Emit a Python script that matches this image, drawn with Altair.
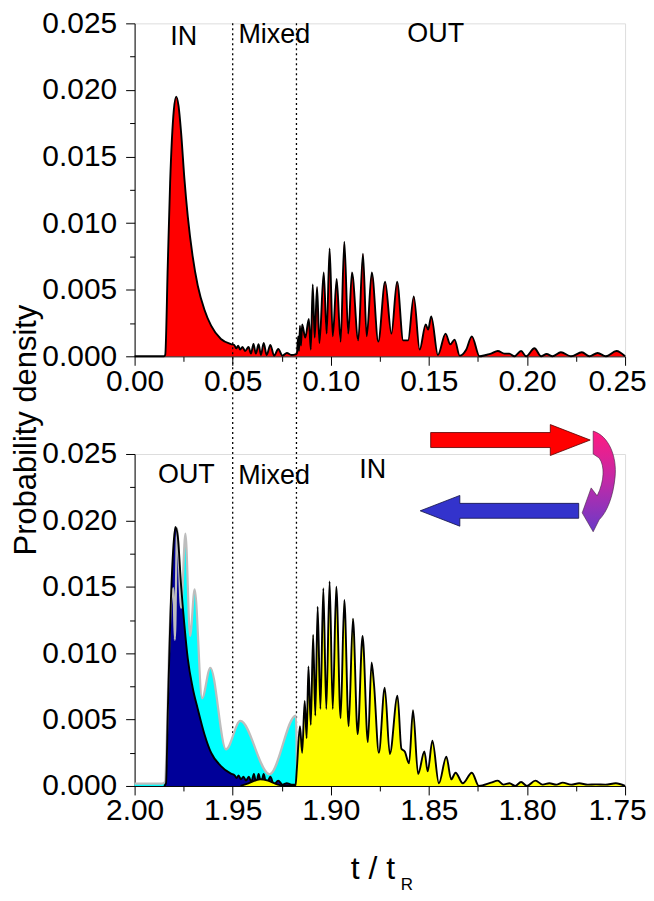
import altair as alt
import pandas as pd

FONT = "Liberation Sans"

# ---------------- top panel: t / t_R from 0 to 0.25 ----------------
top_t = [0.000, 0.0150, 0.0156, 0.0169, 0.0181, 0.0200, 0.0212, 0.0224, 0.0237, 0.0254,
         0.0271, 0.0296, 0.0322, 0.0356, 0.0390, 0.0440, 0.0491,
         0.0508, 0.0518, 0.0528, 0.0538, 0.0550, 0.0563, 0.0581, 0.0593, 0.0606, 0.0618,
         0.0632, 0.0644, 0.0658, 0.0673, 0.0692, 0.0711, 0.0732, 0.0754, 0.0776, 0.0800,
         0.0820, 0.0827, 0.0834, 0.0838, 0.0843, 0.0848, 0.0854, 0.0870, 0.0888, 0.0898,
         0.0908, 0.0918, 0.0930, 0.0942, 0.0964, 0.0979, 0.0994, 0.1010, 0.1030, 0.1050,
         0.1069, 0.1089, 0.1108, 0.1140, 0.1164, 0.1183, 0.1209, 0.1242, 0.1277, 0.1309,
         0.1338, 0.1369, 0.1394, 0.1423, 0.1453, 0.1484, 0.1496, 0.1512, 0.1546, 0.1585,
         0.1609, 0.1631, 0.1657, 0.1690, 0.1719, 0.1758, 0.1790, 0.1817, 0.1851, 0.1885,
         0.1910, 0.1936, 0.1970, 0.1996, 0.2038, 0.2072, 0.2100, 0.2130, 0.2173, 0.2224,
         0.2280, 0.2318, 0.2360, 0.2402, 0.2456, 0.2500]
top_p = [0.0, 0.0, 0.0001, 0.0068, 0.0130, 0.0185, 0.0195, 0.0188, 0.0168, 0.0133,
         0.0105, 0.0075, 0.0053, 0.0035, 0.0023, 0.0013, 0.00092,
         0.00085, 0.0006, 0.0008, 0.0005, 0.0007, 0.0004, 0.0007, 0.0002, 0.00092, 0.0002,
         0.0009, 0.0001, 0.0010, 0.0001, 0.00085, 0.00005, 0.00055, 0.00005, 0.00025, 0.0001,
         0.00015, 0.0002, 0.0015, 0.0004, 0.0023, 0.0008, 0.0024, 0.0014, 0.0028, 0.0005,
         0.0054, 0.0014, 0.0052, 0.0010, 0.0063, 0.0017, 0.0081, 0.0015, 0.0058, 0.0011,
         0.0086, 0.0017, 0.0063, 0.0012, 0.0077, 0.0015, 0.0063, 0.0011, 0.0056, 0.0017,
         0.0056, 0.0012, 0.0012, 0.0045, 0.0005, 0.0024, 0.0020, 0.0030, 0.0001, 0.0017,
         0.0009, 0.00125, 0.00005, 0.0005, 0.0015, 0.0, 0.0001, 0.0002, 0.0004, 0.0002,
         0.0002, 0.0, 0.0004, 0.0, 0.0006, 0.0, 0.00017, 0.0, 0.0003, 0.0,
         0.0003, 0.0, 0.00025, 0.0, 0.0004, 0.0]

top_bounds = [0.05, 0.0825]
top_labels = ["IN", "Mixed", "OUT"]
top_label_t = [0.0250, 0.0712, 0.1535]
top_label_p = [0.0240, 0.0241, 0.0242]

# ---------------- bottom panel: t / t_R from 2.00 down to 1.75 ----------------
cyan_t = [2.000, 1.9860, 1.9845, 1.9835, 1.9825, 1.9813, 1.9802, 1.9795, 1.9783, 1.9763,
          1.9741, 1.9717, 1.9694, 1.9656, 1.9614, 1.9534, 1.9461, 1.9312, 1.9178, 1.9172]
cyan_p = [0.00018, 0.00018, 0.0003, 0.0040, 0.0100, 0.0140, 0.0149, 0.0110, 0.0194, 0.0134,
          0.0190, 0.0113, 0.0148, 0.0066, 0.0089, 0.00275, 0.0049, 0.00088, 0.0053, 0.0]

navy_t = [1.9850, 1.9840, 1.9830, 1.9815, 1.9800, 1.9792, 1.9780, 1.9763, 1.9746, 1.9729,
          1.9704, 1.9678, 1.9644, 1.9610, 1.9560, 1.9509, 1.9490, 1.9480, 1.9470, 1.9458,
          1.9445, 1.9432, 1.9418, 1.9405, 1.9392, 1.9380, 1.9368, 1.9355, 1.9342, 1.9328,
          1.9308, 1.9290, 1.9268, 1.9246, 1.9224, 1.9200, 1.9180, 1.9170]
navy_p = [0.0, 0.0002, 0.0060, 0.0140, 0.0185, 0.0195, 0.0188, 0.0151, 0.0121, 0.0096,
          0.0074, 0.0058, 0.0039, 0.0025, 0.0015, 0.00093, 0.0008, 0.0006, 0.0008, 0.0005,
          0.0007, 0.0004, 0.0007, 0.0003, 0.0009, 0.0002, 0.0009, 0.0002, 0.0009, 0.0001,
          0.0007, 0.0001, 0.0004, 0.0001, 0.0002, 0.0001, 0.0001, 0.0]

yellow_t = [1.9460, 1.9420, 1.9360, 1.9320, 1.9270, 1.9230, 1.9180, 1.9173, 1.9157, 1.9146,
            1.9133, 1.9123, 1.9114, 1.9102, 1.9090, 1.9079, 1.9067, 1.9053, 1.9038, 1.9023,
            1.9006, 1.8990, 1.8972, 1.8950, 1.8931, 1.8909, 1.8887, 1.8863, 1.8838, 1.8811,
            1.8792, 1.8780, 1.8755, 1.8725, 1.8699, 1.8660, 1.8640, 1.8623, 1.8601, 1.8581,
            1.8555, 1.8523, 1.8506, 1.8482, 1.8449, 1.8411, 1.8386, 1.8364, 1.8327, 1.8281,
            1.8245, 1.8183, 1.8149, 1.8120, 1.8089, 1.8060, 1.8030, 1.8000, 1.7957, 1.7920,
            1.7886, 1.7850, 1.7818, 1.7775, 1.7734, 1.7690, 1.7649, 1.7600, 1.7547, 1.7500]
yellow_p = [0.0, 0.0002, 0.0005, 0.0004, 0.0001, 0.0, 0.0, 0.0013, 0.0045, 0.0025,
            0.0064, 0.0036, 0.0090, 0.0046, 0.0114, 0.0053, 0.0135, 0.0058, 0.0149, 0.0058,
            0.0154, 0.0058, 0.0150, 0.0051, 0.0140, 0.0045, 0.0126, 0.0039, 0.0113, 0.0033,
            0.0093, 0.0077, 0.0025, 0.0074, 0.0024, 0.0068, 0.0028, 0.0026, 0.0017, 0.0057,
            0.0009, 0.0026, 0.0011, 0.0034, 0.0002, 0.0022, 0.0005, 0.0010, 0.0002, 0.0010,
            0.0, 0.00025, 0.0004, 0.0001, 0.0002, 0.0, 0.0003, 0.0, 0.0004, 0.0001,
            0.0002, 0.0001, 0.00025, 0.0001, 0.0002, 0.0001, 0.00012, 0.0001, 0.0002, 0.0]

bottom_labels = ["OUT", "Mixed", "IN"]
bottom_label_t = [1.9736, 1.9289, 1.8786]
bottom_label_p = [0.0234, 0.02335, 0.0238]

y_ticks = [round(i * 0.0025, 4) for i in range(11)]
x_ticks_top = [round(i * 0.025, 3) for i in range(11)]
x_ticks_bottom = [round(1.75 + i * 0.025, 3) for i in range(11)]

# ---------------- styling helpers ----------------
def major(mult):
    return f"abs(datum.value*{mult} - round(datum.value*{mult})) < 0.001"

def make_axis(values, mult, fmt, pad, edge_value=None):
    extra = {}
    if edge_value is not None:
        extra["labelOffset"] = {"condition": {"test": f"abs(datum.value - {edge_value}) < 0.001",
                                              "value": -8}, "value": 0}
    return alt.Axis(
        values=values,
        labelExpr=f"{major(mult)} ? format(datum.value, '{fmt}') : ''",
        tickSize={"condition": {"test": major(mult), "value": 9}, "value": 5},
        labelOverlap=False, labelFlush=False, grid=False, title=None,
        labelFont=FONT, labelFontSize=30, labelColor="black",
        tickColor="black", domainColor="black", tickWidth=1, domainWidth=1,
        labelPadding=pad, **extra
    )

y_axis = make_axis(y_ticks, 200, ".3f", 9)
y_enc = alt.Y("p:Q", scale=alt.Scale(domain=[0, 0.025], nice=False), axis=y_axis)

# ---------------- top chart ----------------
df_top = pd.DataFrame({"t": top_t, "p": top_p})
x_top = alt.X("t:Q", scale=alt.Scale(domain=[0, 0.25], nice=False, zero=False),
              axis=make_axis(x_ticks_top, 20, ".2f", 1, 0.25))

top_area = alt.Chart(df_top).mark_area(color="#FF0000", interpolate="monotone").encode(x=x_top, y=y_enc)
top_line = alt.Chart(df_top).mark_line(color="black", strokeWidth=1.9, interpolate="monotone").encode(x=x_top, y=y_enc)

top_rules = alt.Chart(pd.DataFrame({"t": top_bounds})).mark_rule(
    color="black", strokeDash=[2, 3], strokeWidth=1.3
).encode(x=x_top, y=alt.value(0), y2=alt.value(765))

top_text = alt.Chart(pd.DataFrame({"t": top_label_t, "p": top_label_p, "s": top_labels})).mark_text(
    font=FONT, fontSize=27, color="black", align="center", baseline="middle"
).encode(x=x_top, y=y_enc, text="s:N")

ytitle = alt.Chart(pd.DataFrame({"s": ["Probability density"]})).mark_text(
    font=FONT, fontSize=31, color="black", angle=270, align="center", baseline="middle"
).encode(x=alt.value(-108), y=alt.value(408), text="s:N")

top_chart = alt.layer(top_area, top_line, top_rules, top_text, ytitle).properties(width=492, height=334)

# ---------------- bottom chart ----------------
x_bot = alt.X("t:Q", scale=alt.Scale(domain=[1.75, 2.0], nice=False, zero=False, reverse=True),
              axis=make_axis(x_ticks_bottom, 20, ".2f", 1, 1.75))

df_cyan = pd.DataFrame({"t": cyan_t, "p": cyan_p})
df_navy = pd.DataFrame({"t": navy_t, "p": navy_p})
df_yel = pd.DataFrame({"t": yellow_t, "p": yellow_p})

cyan_area = alt.Chart(df_cyan).mark_area(color="#00FFFF", interpolate="monotone").encode(x=x_bot, y=y_enc)
navy_area = alt.Chart(df_navy).mark_area(color="#000099", interpolate="monotone").encode(x=x_bot, y=y_enc)
cyan_line = alt.Chart(df_cyan).mark_line(color="#BDBDBD", strokeWidth=2.2, interpolate="monotone").encode(x=x_bot, y=y_enc)
navy_line = alt.Chart(df_navy).mark_line(color="black", strokeWidth=1.9, interpolate="monotone").encode(x=x_bot, y=y_enc)
yel_area = alt.Chart(df_yel).mark_area(color="#FFFF00", interpolate="monotone").encode(x=x_bot, y=y_enc)
yel_line = alt.Chart(df_yel).mark_line(color="black", strokeWidth=1.9, interpolate="monotone").encode(x=x_bot, y=y_enc)

bot_text = alt.Chart(pd.DataFrame({"t": bottom_label_t, "p": bottom_label_p, "s": bottom_labels})).mark_text(
    font=FONT, fontSize=27, color="black", align="center", baseline="middle"
).encode(x=x_bot, y=y_enc, text="s:N")

one = pd.DataFrame({"a": [0]})
red_arrow_path = "M-1,-0.094L0.5,-0.094L0.5,-0.194L1,0L0.5,0.194L0.5,0.094L-1,0.094Z"
blue_arrow_path = "M1,-0.094L-0.5,-0.094L-0.5,-0.194L-1,0L-0.5,0.194L-0.5,0.094L1,0.094Z"
curve_path = ("M-6,-51C10,-46 18,-25 16,-5C14,15 8,30 0,38L-6,50L-17,31L-8,6L-2,14"
              "C5,0 6,-16 0,-24L-6,-28Z")

red_arrow = alt.Chart(one).mark_point(
    shape=red_arrow_path, filled=True, fill="#FF0000", stroke="#550000", strokeWidth=0.8,
    opacity=1, size=160 * 160
).encode(x=alt.value(377), y=alt.value(-14))
blue_arrow = alt.Chart(one).mark_point(
    shape=blue_arrow_path, filled=True, fill="#3333CC", stroke="#111144", strokeWidth=0.8,
    opacity=1, size=159 * 159
).encode(x=alt.value(366), y=alt.value(57))
curve_arrow = alt.Chart(one).mark_point(
    shape=curve_path, filled=True,
    fill=alt.LinearGradient(gradient="linear", x1=0, y1=0, x2=0, y2=1,
                            stops=[alt.GradientStop(color="#FF1A80", offset=0),
                                   alt.GradientStop(color="#C02AA8", offset=0.5),
                                   alt.GradientStop(color="#6A3AC8", offset=1)]),
    stroke="#442244", strokeWidth=0.6, opacity=1, size=4
).encode(x=alt.value(466), y=alt.value(28))

xtitle = alt.Chart(pd.DataFrame({"s": ["t / t"]})).mark_text(
    font=FONT, fontSize=32, color="black", align="center", baseline="alphabetic"
).encode(x=alt.value(239), y=alt.value(426), text="s:N")
xsub = alt.Chart(pd.DataFrame({"s": ["R"]})).mark_text(
    font=FONT, fontSize=17, color="black", align="center", baseline="alphabetic"
).encode(x=alt.value(273), y=alt.value(437), text="s:N")

bottom_chart = alt.layer(
    cyan_area, navy_area, cyan_line, navy_line, yel_area, yel_line,
    bot_text, red_arrow, blue_arrow, curve_arrow, xtitle, xsub
).properties(width=492, height=333)

chart = alt.vconcat(top_chart, bottom_chart, spacing=98, bounds="flush").properties(
    padding={"left": 2, "top": -2, "right": -1, "bottom": 4}
).configure_view(strokeWidth=0).configure(background="white")

chart.save("out.html", embed_options={"renderer": "svg", "actions": False})
